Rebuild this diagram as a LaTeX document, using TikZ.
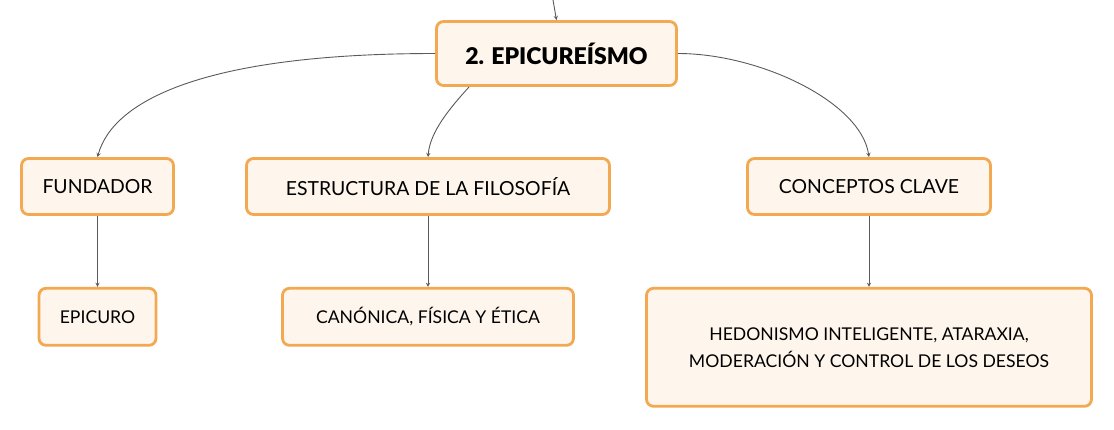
\documentclass[tikz,border=0pt]{standalone}
\usepackage{fontspec}
\setmainfont{Lato}
\newfontfamily\heavyfont{Lato Black}
\usetikzlibrary{shapes.geometric, arrows, calc, positioning}
\definecolor{boxorange}{RGB}{243,168,82}
\definecolor{boxfill}{RGB}{254,246,236}
\definecolor{linegray}{RGB}{90,90,90}
\tikzstyle{idea} = [rectangle, rounded corners=7pt, draw=boxorange, line width=2.8pt,
fill=boxfill, inner sep=0pt, align=center, font=\fontsize{19.4}{27}\selectfont]
\tikzstyle{leaf} = [idea, font=\fontsize{17.6}{27}\selectfont]
\tikzstyle{arrow} = [draw=linegray, line width=0.9pt, ->, >=stealth]

\begin{document}
\begin{tikzpicture}[x=1pt, y=-1pt]

        % \draw[help lines] (0,0) grid (1114,429);
        \useasboundingbox (0,0) rectangle (1114,429);

        \coordinate (IN) at (553,0);

        \node (EPI) [idea, minimum width=240pt, minimum height=64pt,
        font=\fontsize{23}{27}\selectfont\heavyfont] at (556.5,53.5) {2. EPICUREÍSMO};

        \node (FUN) [idea, minimum width=152pt, minimum height=56pt] at (97.5,186.5) {FUNDADOR};
        \node (EST) [idea, minimum width=363pt, minimum height=56pt] at (428,186.5) {ESTRUCTURA DE LA FILOSOFÍA};
        \node (CON) [idea, minimum width=243pt, minimum height=56pt] at (869,186.5) {CONCEPTOS CLAVE};

        \node (EPC) [leaf, minimum width=117pt, minimum height=57pt, below=71pt of FUN] {EPICURO};
        \node (CFE) [leaf, minimum width=291pt, minimum height=57pt, below=71pt of EST] {CANÓNICA, FÍSICA Y ÉTICA};
        \node (HED) [leaf, minimum width=445pt, minimum height=118pt, below=71pt of CON]
        {HEDONISMO INTELIGENTE, ATARAXIA,\\ MODERACIÓN Y CONTROL DE LOS DESEOS};

        \coordinate (E1) at ([xshift=34pt]EPI.south west);

        \draw [arrow] (IN) -- (EPI.north);
        \draw [arrow] (EPI.west) .. controls +(-235,0) and +(15,-55) .. (FUN.north);
        \draw [arrow] (E1) .. controls +(-20,22) and +(2,-25) .. (EST.north);
        \draw [arrow] (EPI.east) .. controls +(82,0) and +(-8,-55) .. (CON.north);

        \draw [arrow] (FUN) -- (EPC);
        \draw [arrow] (EST) -- (CFE);
        \draw [arrow] (CON) -- (HED);

    \end{tikzpicture}
\end{document}
